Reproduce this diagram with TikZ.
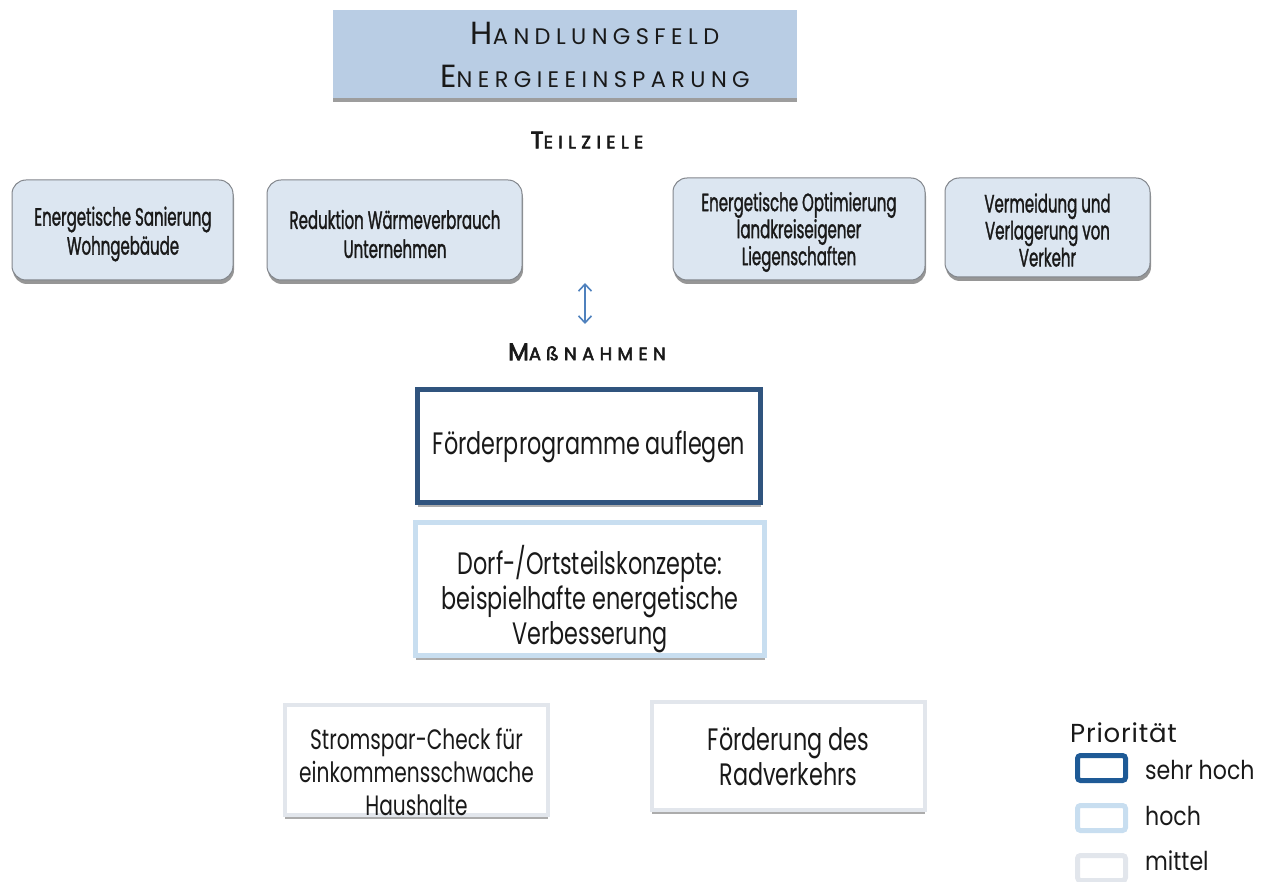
\documentclass[tikz,border=0pt]{standalone}
\usepackage{fontspec}
\setmainfont{Poppins}[FakeStretch=0.72]
\newfontfamily\condf{Poppins}[FakeStretch=0.6,FakeBold=1.2]
\newfontfamily\capf{Poppins}[LetterSpace=24]
\newfontfamily\capbf{Poppins}[LetterSpace=30,FakeBold=3]
\newfontfamily\legf{Poppins}[FakeStretch=0.85]
\newfontfamily\priof{Poppins}[LetterSpace=3]
\usetikzlibrary{shadows,arrows.meta}
\definecolor{titlefill}{RGB}{185,205,228}
\definecolor{goalfill}{RGB}{220,230,241}
\definecolor{goalline}{RGB}{130,134,140}
\definecolor{veryhigh}{RGB}{48,84,126}
\definecolor{veryhighleg}{RGB}{30,90,150}
\definecolor{high}{RGB}{200,222,240}
\definecolor{mid}{RGB}{226,230,236}
\definecolor{arrowc}{RGB}{79,129,189}
\definecolor{txt}{RGB}{25,25,25}
\tikzset{
  titlebox/.style={fill=titlefill, inner sep=0pt,
    drop shadow={shadow xshift=0pt, shadow yshift=-4pt, opacity=.55, fill=black!70}},
  goal/.style={rounded corners=14pt, fill=goalfill, draw=goalline, line width=1pt,
    drop shadow={shadow xshift=1pt, shadow yshift=-4pt, opacity=.55, fill=black!75},
    inner sep=0pt},
  goaltext/.style={align=center, inner sep=0pt, text=txt,
    font=\condf\fontsize{25}{29}\selectfont},
  measure/.style={fill=white, inner sep=0pt,
    drop shadow={shadow xshift=0pt, shadow yshift=-4pt, opacity=.5, fill=black!65}},
  mtext/.style={align=center, inner sep=0pt, text=txt,
    font=\fontsize{31}{35}\selectfont},
  head/.style={text=txt, inner sep=0pt},
  legbox/.style={rounded corners=3pt, fill=white, inner sep=0pt,
    minimum width=48pt, minimum height=25pt},
  legtext/.style={anchor=west, inner sep=0pt, text=txt,
    font=\legf\fontsize{26}{30}\selectfont}
}
\begin{document}
\begin{tikzpicture}[x=1pt,y=-1pt]
\useasboundingbox (0,0) rectangle (1275,882);

% title
\node[titlebox, minimum width=464pt, minimum height=88pt] (title) at (565,54) {};
\node[head, align=center, font=\capf\fontsize{22.5}{43}\selectfont] (titletext) at (595,55)
  {{\fontsize{32}{43}\selectfont H}ANDLUNGSFELD\\{\fontsize{32}{43}\selectfont E}NERGIEEINSPARUNG};

\node[head, font=\capbf\fontsize{18}{22}\selectfont] (teilziele) at (587,140)
  {{\fontsize{24}{22}\selectfont T}EILZIELE};

% goals
\node[goal, minimum width=221pt, minimum height=100pt] (g1) at (122.5,230) {};
\node[goaltext] (g1t) at (123,234) {Energetische Sanierung\\Wohngebäude};
\node[goal, minimum width=255pt, minimum height=100pt] (g2) at (394.5,230) {};
\node[goaltext] (g2t) at (395,234) {Reduktion Wärmeverbrauch\\Unternehmen};
\node[goal, minimum width=252pt, minimum height=102pt] (g3) at (799,229) {};
\node[goaltext, font=\condf\fontsize{25}{27}\selectfont] (g3t) at (799,232)
  {Energetische Optimierung\\landkreiseigener\\Liegenschaften};
\node[goal, minimum width=205pt, minimum height=99pt] (g4) at (1047.5,227.5) {};
\node[goaltext, font=\condf\fontsize{25}{27}\selectfont] (g4t) at (1047.5,230)
  {Vermeidung und\\Verlagerung von\\Verkehr};

% arrow
\node[head, font=\capbf\fontsize{18}{22}\selectfont] (massn) at (587,352)
  {{\fontsize{24}{22}\selectfont M}AßNAHMEN};
\coordinate (aTop) at (585,283);
\coordinate (aBot) at (585,324);
\draw[arrowc, line width=1.6pt, {Straight Barb[length=7pt,width=13pt]}-{Straight Barb[length=7pt,width=13pt]}]
  (aTop) -- (aBot);

% measures
\node[measure, draw=veryhigh, line width=5pt, minimum width=343pt, minimum height=113pt] (m1) at (589,446) {};
\node[mtext] (m1t) at (589,447) {Förderprogramme auflegen};
\node[measure, draw=high, line width=5pt, minimum width=349pt, minimum height=133pt] (m2) at (590,589) {};
\node[mtext] (m2t) at (590,599)
  {Dorf-/Ortsteilskonzepte:\\beispielhafte energetische\\Verbesserung};
\node[measure, draw=mid, line width=4pt, minimum width=263pt, minimum height=110pt] (m3) at (416.5,760) {};
\node[mtext, font=\fontsize{28}{33}\selectfont] (m3t) at (416.5,772)
  {Stromspar-Check für\\einkommensschwache\\Haushalte};
\node[measure, draw=mid, line width=4pt, minimum width=273pt, minimum height=108pt] (m4) at (788.5,756) {};
\node[mtext, font=\fontsize{31}{35}\selectfont] (m4t) at (788.5,757)
  {Förderung des\\Radverkehrs};

% legend
\node[legtext, font=\priof\fontsize{26}{30}\selectfont] (prio) at (1070,733) {Priorität};
\node[legbox, draw=veryhighleg, line width=5pt] (l1) at (1101.5,768) {};
\node[legbox, draw=high, line width=5pt] (l2) at (1101.5,818) {};
\node[legbox, draw=mid, line width=5pt] (l3) at (1101.5,868) {};
\node[legtext] (t1) at (1145,770) {sehr hoch};
\node[legtext] (t2) at (1145,816) {hoch};
\node[legtext] (t3) at (1145,861) {mittel};
\end{tikzpicture}
\end{document}
